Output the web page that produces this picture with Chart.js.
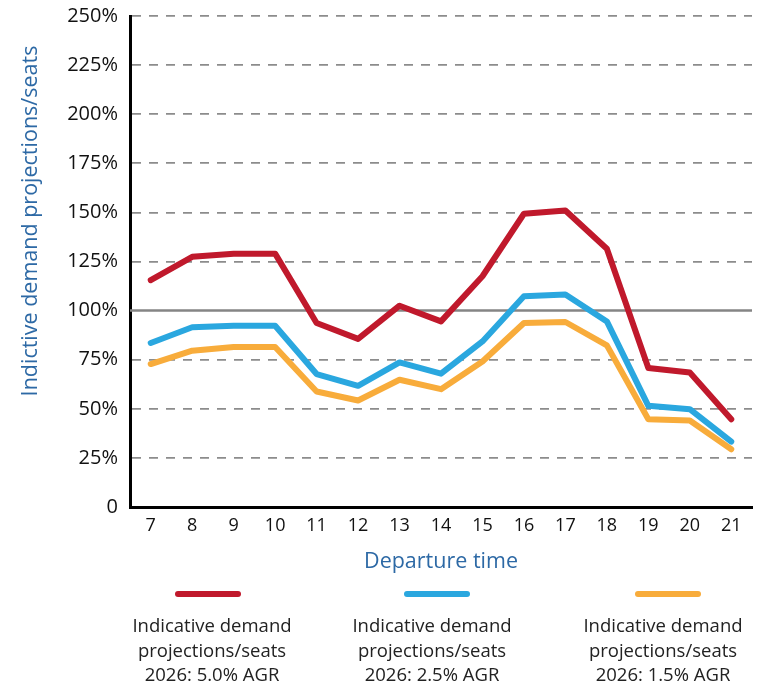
<!DOCTYPE html>
<html><head><meta charset="utf-8">
<script src="https://cdn.jsdelivr.net/npm/chart.js@4/dist/chart.umd.min.js"></script>
<style>html,body{margin:0;padding:0;background:#fff}#wrap{width:757px;height:685px;position:relative}</style>
</head><body><div id="wrap"><canvas id="c" width="757" height="685"></canvas></div>
<script>
const categories = ['7','8','9','10','11','12','13','14','15','16','17','18','19','20','21'];
const series50 = [115.5,127.4,129,129,93.7,85.6,102.5,94.5,117.5,149.3,151,131.5,70.8,68.5,44.7];
const series25 = [83.5,91.5,92.3,92.3,67.7,61.7,73.6,67.9,84.3,107.3,108.2,94.5,51.5,49.8,33.3];
const series15 = [72.8,79.6,81.5,81.5,58.8,54.2,64.8,60,74.1,93.7,94.2,82.3,44.7,44,29.4];
const yTicks = [0,25,50,75,100,125,150,175,200,225,250];
const referenceValue = 100;
const legendLabels = [
  ['Indicative demand','projections/seats','2026: 5.0% AGR'],
  ['Indicative demand','projections/seats','2026: 2.5% AGR'],
  ['Indicative demand','projections/seats','2026: 1.5% AGR']
];
const yTitle = 'Indictive demand projections/seats';
const xTitle = 'Departure time';

const FONT = "'Open Sans', sans-serif";
const BLUE_TEXT = '#2d69a5';

const refLinePlugin = {
  id: 'refLine',
  beforeDatasetsDraw(chart) {
    const {ctx, chartArea, scales} = chart;
    const y = scales.y.getPixelForValue(referenceValue);
    ctx.save();
    ctx.strokeStyle = '#858585';
    ctx.lineWidth = 2.5;
    ctx.beginPath();
    ctx.moveTo(chartArea.left, y);
    ctx.lineTo(chartArea.right, y);
    ctx.stroke();
    ctx.restore();
  }
};

const extrasPlugin = {
  id: 'extras',
  afterDraw(chart) {
    const {ctx} = chart;
    ctx.save();
    ctx.translate(31, 221);
    ctx.rotate(-Math.PI / 2);
    ctx.fillStyle = BLUE_TEXT;
    ctx.font = '21.5px ' + FONT;
    ctx.textAlign = 'center';
    ctx.textBaseline = 'middle';
    ctx.fillText(yTitle, 0, 0);
    ctx.restore();
    const lineCenters = [208, 437, 668];
    const textCenters = [212, 432, 663];
    chart.data.datasets.forEach((ds, i) => {
      ctx.save();
      ctx.strokeStyle = ds.borderColor;
      ctx.lineWidth = 6;
      ctx.lineCap = 'round';
      ctx.beginPath();
      ctx.moveTo(lineCenters[i] - 30, 594);
      ctx.lineTo(lineCenters[i] + 30, 594);
      ctx.stroke();
      ctx.fillStyle = '#222';
      ctx.font = '18.5px ' + FONT;
      ctx.textAlign = 'center';
      ctx.textBaseline = 'middle';
      legendLabels[i].forEach((t, j) => ctx.fillText(t, textCenters[i], 627 + j * 24.5));
      ctx.restore();
    });
  }
};

new Chart(document.getElementById('c'), {
  type: 'line',
  data: {
    labels: categories,
    datasets: [
      {label: legendLabels[0].join(' '), data: series50, borderColor: '#c0192c'},
      {label: legendLabels[1].join(' '), data: series25, borderColor: '#2aa7df'},
      {label: legendLabels[2].join(' '), data: series15, borderColor: '#f8ac3b'}
    ].map(d => Object.assign(d, {borderWidth: 6, pointRadius: 0, tension: 0, fill: false,
      borderCapStyle: 'round', borderJoinStyle: 'round'}))
  },
  plugins: [refLinePlugin, extrasPlugin],
  options: {
    responsive: false,
    animation: false,
    devicePixelRatio: 1,
    layout: {padding: {left: 0, top: 13, right: 5, bottom: 106}},
    plugins: {legend: {display: false}, tooltip: {enabled: false}},
    scales: {
      x: {
        offset: true,
        grid: {display: false, drawTicks: false},
        border: {display: true, color: '#000', width: 3},
        ticks: {color: '#111', font: {size: 18, family: FONT}, padding: 8, maxRotation: 0, autoSkip: false},
        title: {display: true, text: xTitle, color: BLUE_TEXT, font: {size: 21.5, family: FONT}, padding: {top: 4}},
        afterFit(s) { s.height = 72; }
      },
      y: {
        min: 0, max: 250,
        afterBuildTicks(s) { s.ticks = yTicks.map(v => ({value: v})); },
        grid: {
          drawTicks: false,
          color: c => (c.tick && (c.tick.value === 0 || c.tick.value === referenceValue)) ? 'rgba(0,0,0,0)' : '#8c8c8c',
          lineWidth: 1.8
        },
        border: {display: true, color: '#000', width: 3, dash: [9, 8]},
        ticks: {color: '#111', font: {size: 20, family: FONT, lineHeight: 0.4}, padding: 12,
          callback: v => v === 0 ? '0' : v + '%'},
        afterFit(s) { s.width = 130; }
      }
    }
  }
});
</script></body></html>
